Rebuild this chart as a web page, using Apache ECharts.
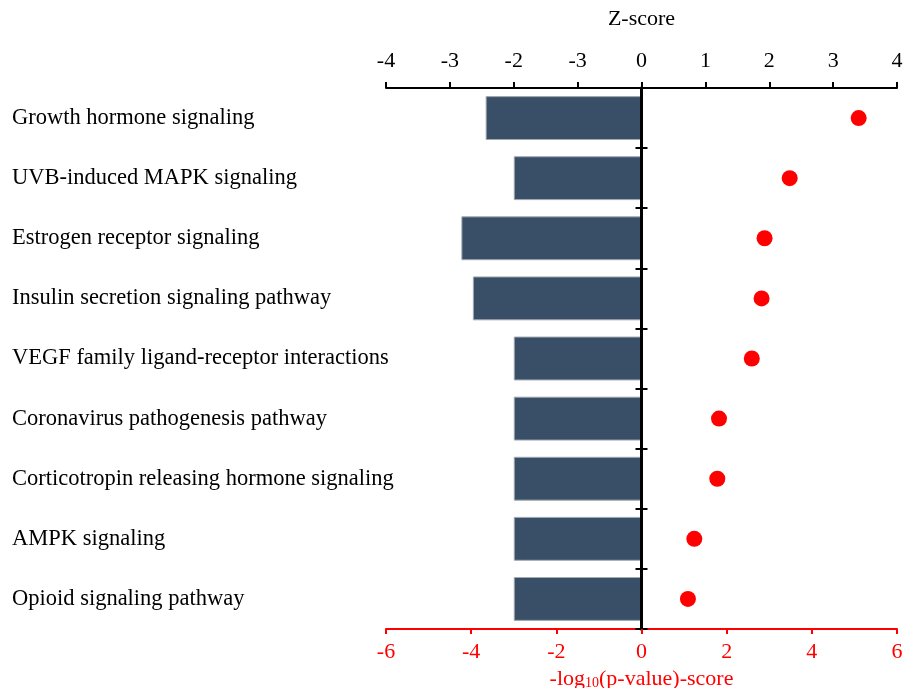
<!DOCTYPE html>
<html>
<head>
<meta charset="utf-8">
<script src="https://cdn.jsdelivr.net/npm/echarts@6/dist/echarts.min.js"></script>
<style>html,body{margin:0;padding:0;background:#fff}#c{width:914px;height:688px}</style>
</head>
<body>
<div id="c"></div>
<script>
var categories = [
  'Growth hormone signaling',
  'UVB-induced MAPK signaling',
  'Estrogen receptor signaling',
  'Insulin secretion signaling pathway',
  'VEGF family ligand-receptor interactions',
  'Coronavirus pathogenesis pathway',
  'Corticotropin releasing hormone signaling',
  'AMPK signaling',
  'Opioid signaling pathway'
];
var zScores = [-2.44, -2.0, -2.82, -2.64, -2.0, -2.0, -2.0, -2.0, -2.0];
var logP = [5.10, 3.48, 2.89, 2.82, 2.59, 1.82, 1.78, 1.24, 1.09];
var topTickLabels = ['-4', '-3', '-2', '-3', '0', '1', '2', '3', '4'];
var bottomTickLabels = ['-6', '-4', '-2', '0', '2', '4', '6'];

var FONT = 'Liberation Serif';
var chart = echarts.init(document.getElementById('c'));
var catAxisBase = {
  type: 'category', data: categories, inverse: true,
  splitLine: { show: false }
};
chart.setOption({
  animation: false,
  grid: { left: 386, right: 17, top: 88, bottom: 59, containLabel: false, outerBoundsMode: 'none' },
  xAxis: [
    {
      type: 'value', position: 'top', min: -4, max: 4, interval: 1,
      name: 'Z-score', nameLocation: 'middle', nameGap: 58,
      nameTextStyle: { fontFamily: FONT, fontSize: 22, color: '#000' },
      axisLine: { show: true, onZero: false, lineStyle: { color: '#000', width: 2 } },
      axisTick: { show: true, length: 6, lineStyle: { color: '#000', width: 2 } },
      axisLabel: {
        margin: 16, fontFamily: FONT, fontSize: 22, color: '#000',
        formatter: function (v) { return topTickLabels[Math.round(v + 4)]; }
      },
      splitLine: { show: false }
    },
    {
      type: 'value', position: 'bottom', min: -6, max: 6, interval: 2,
      name: '-log{sub|10}(p-value)-score', nameLocation: 'middle', nameGap: 33,
      nameTextStyle: {
        fontFamily: FONT, fontSize: 22, color: '#ff0000',
        rich: { sub: { fontFamily: FONT, fontSize: 14, color: '#ff0000', verticalAlign: 'bottom', padding: [8, 0, 0, 0] } }
      },
      axisLine: { show: true, onZero: false, lineStyle: { color: '#ff0000', width: 2 } },
      axisTick: { show: true, length: 5, lineStyle: { color: '#ff0000', width: 2 } },
      axisLabel: {
        margin: 12, fontFamily: FONT, fontSize: 22, color: '#ff0000',
        formatter: function (v) { return bottomTickLabels[Math.round((v + 6) / 2)]; }
      },
      splitLine: { show: false }
    }
  ],
  yAxis: [
    Object.assign({}, catAxisBase, {
      position: 'left',
      axisLine: { show: false, onZero: false },
      axisTick: { show: false },
      axisLabel: { align: 'left', margin: 374, fontFamily: FONT, fontSize: 22.5, color: '#000' }
    }),
    Object.assign({}, catAxisBase, {
      axisLine: { show: true, onZero: true, onZeroAxisIndex: 0, lineStyle: { color: '#000', width: 3 } },
      axisTick: { show: true, length: 6, lineStyle: { color: '#000', width: 2 } },
      axisLabel: { show: false }
    }),
    Object.assign({}, catAxisBase, {
      axisLine: { show: true, onZero: true, onZeroAxisIndex: 0, lineStyle: { color: '#000', width: 3 } },
      axisTick: { show: true, inside: true, length: 6, lineStyle: { color: '#000', width: 2 } },
      axisLabel: { show: false }
    })
  ],
  series: [
    {
      type: 'bar', xAxisIndex: 0, yAxisIndex: 0, data: zScores,
      barCategoryGap: '27%',
      itemStyle: { color: '#394f67', borderColor: '#a3a9b0', borderWidth: 1 },
      z: 1,
      markLine: {
        silent: true, symbol: 'none', animation: false,
        label: { show: false },
        lineStyle: { color: '#000', width: 3, type: 'solid' },
        emphasis: { disabled: true },
        data: [{ xAxis: 0 }]
      }
    },
    {
      type: 'scatter', xAxisIndex: 1, yAxisIndex: 0, data: logP,
      symbolSize: 16, itemStyle: { color: '#ff0000', opacity: 1 }, z: 3
    }
  ]
});
</script>
</body>
</html>
